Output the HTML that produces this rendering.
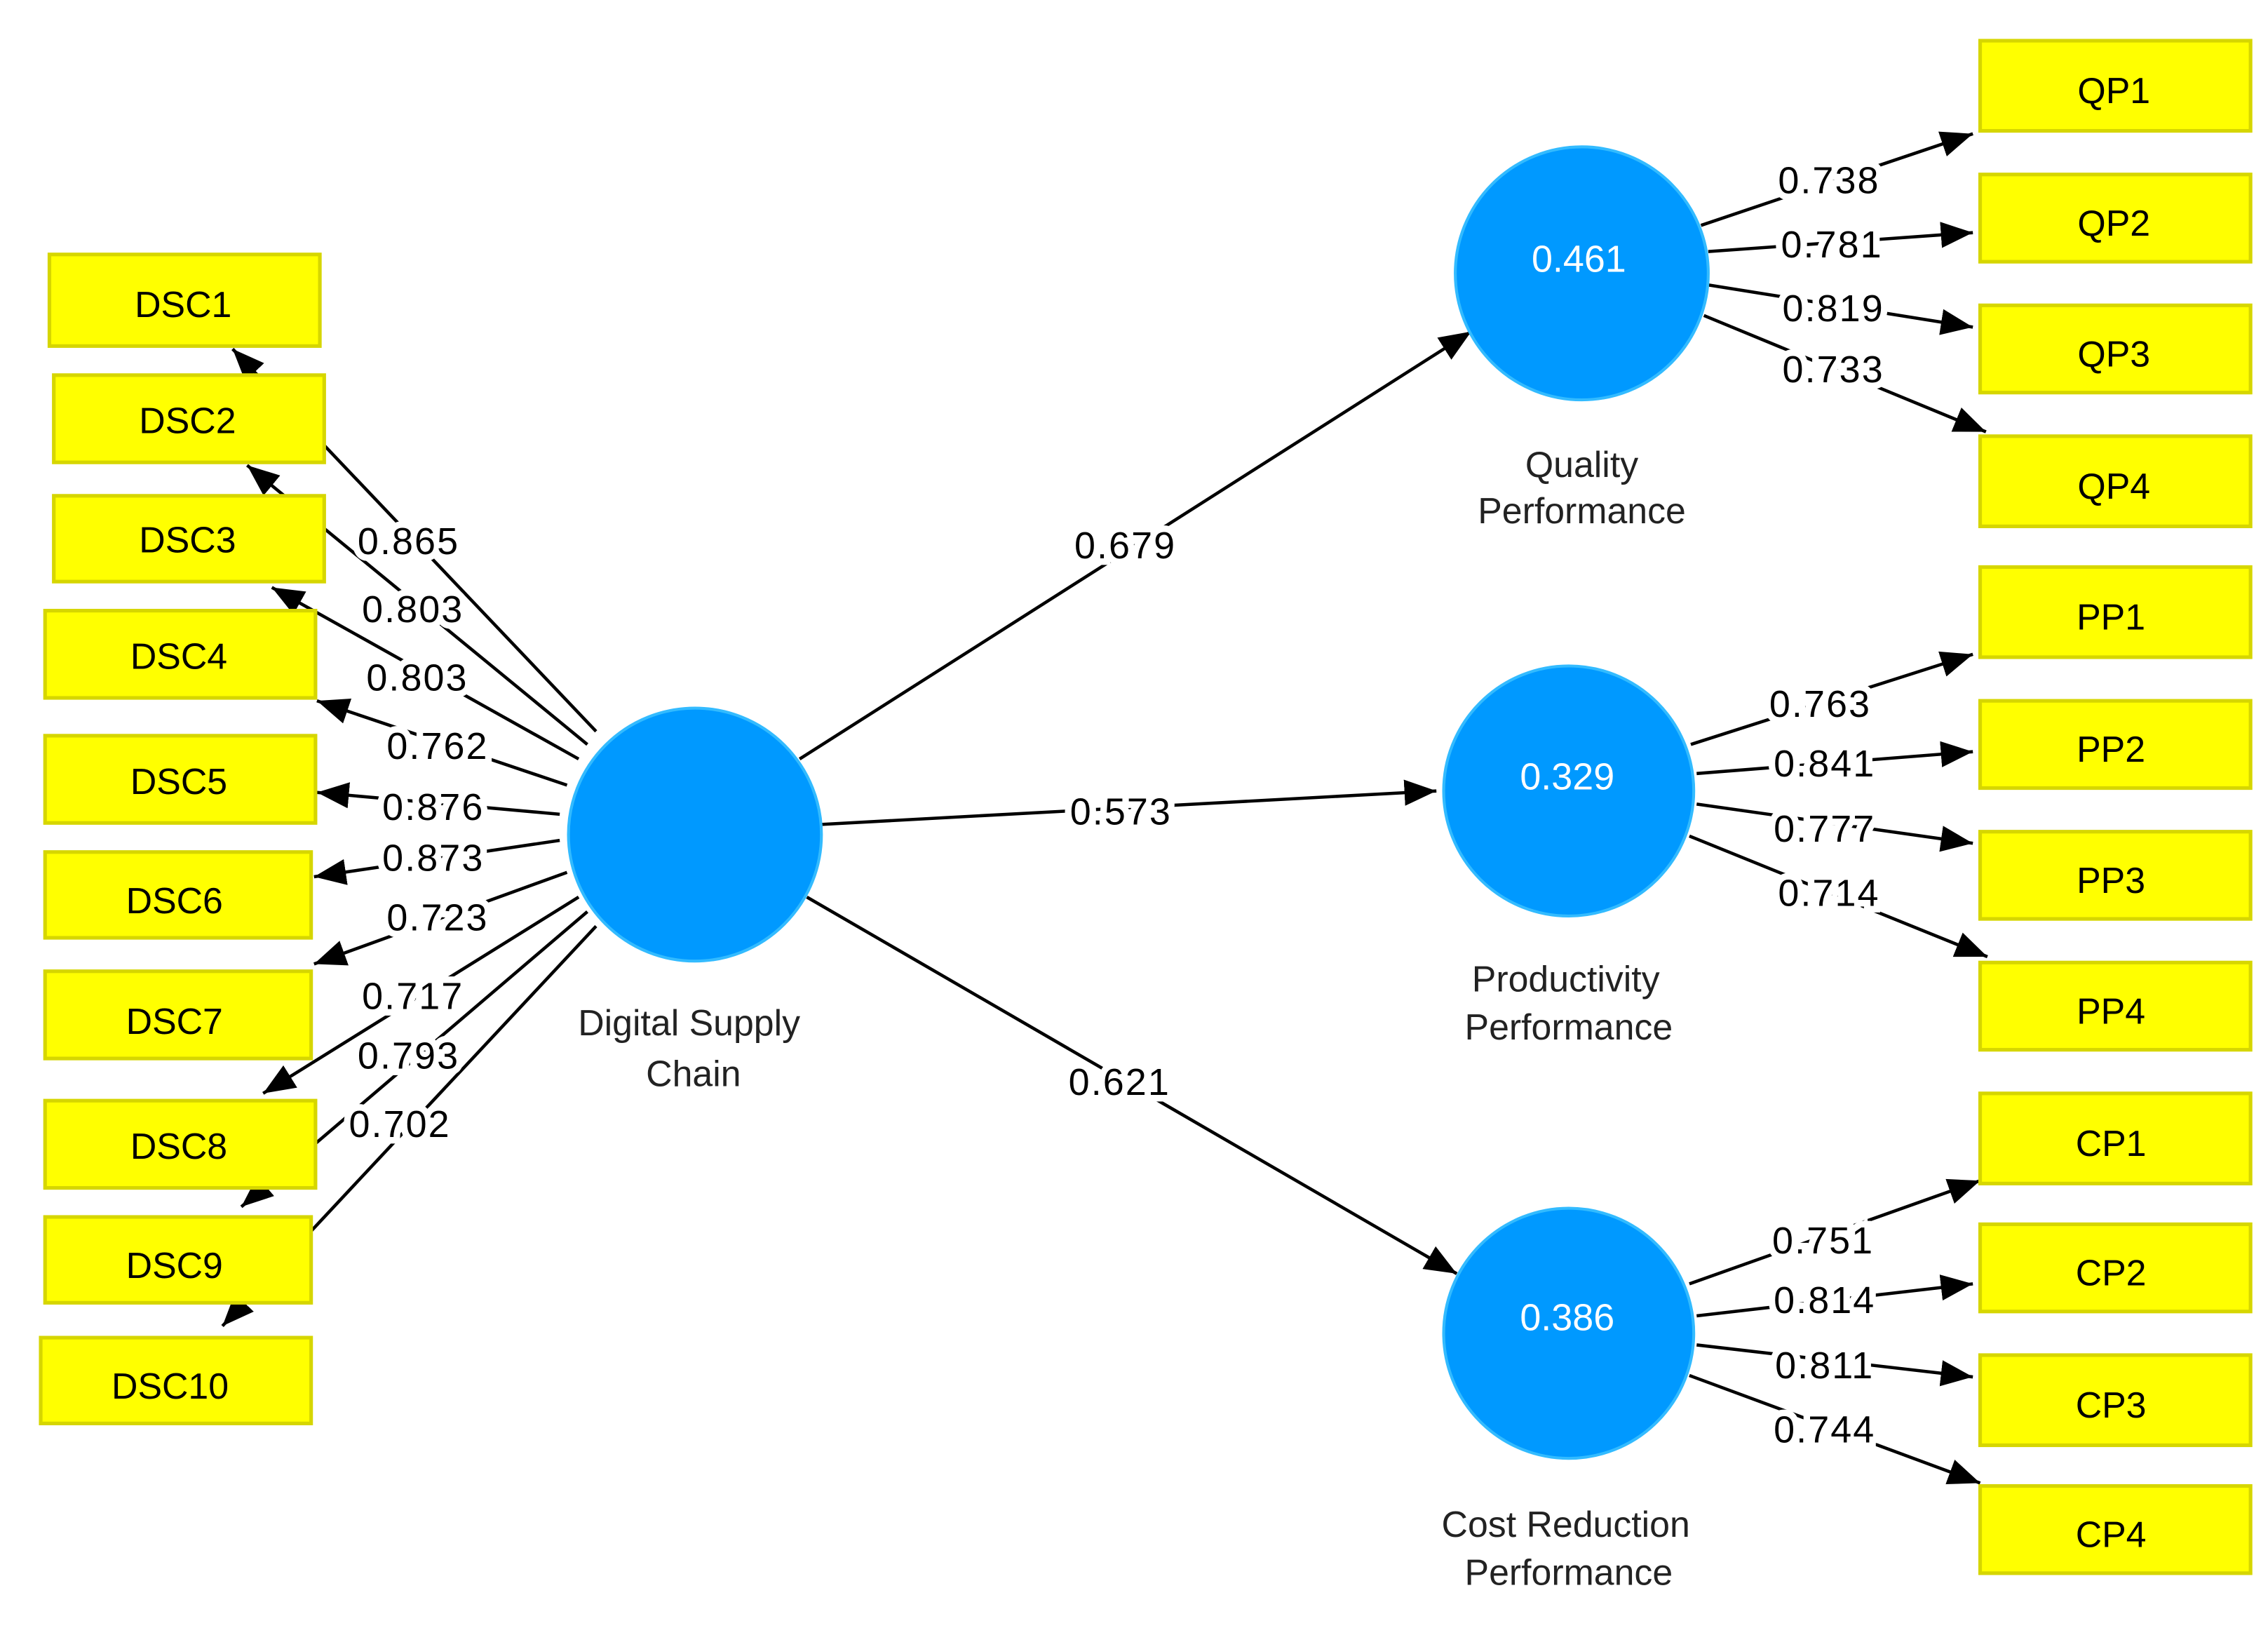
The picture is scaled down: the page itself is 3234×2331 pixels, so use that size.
<!DOCTYPE html>
<html><head><meta charset="utf-8"><style>
html,body{margin:0;padding:0;background:#fff;}
svg{display:block;}
text{font-family:"Liberation Sans",sans-serif;}
</style></head><body>
<svg width="3234" height="2331" viewBox="0 0 1560 1124.5" preserveAspectRatio="none" xmlns="http://www.w3.org/2000/svg">
<defs>
<marker id="a" markerUnits="userSpaceOnUse" markerWidth="24" markerHeight="20" refX="22" refY="10" orient="auto">
<path d="M0,1 L22,10 L0,19 Z" fill="#000"/>
</marker>
</defs>
<g stroke="#000" stroke-width="2.2" fill="none" marker-end="url(#a)">
<!-- structural -->
<line x1="550" y1="522" x2="1012" y2="228"/>
<line x1="565" y1="567" x2="988" y2="544"/>
<line x1="555" y1="617" x2="1002" y2="876"/>
<!-- QP -->
<line x1="1170" y1="155" x2="1357" y2="92"/>
<line x1="1175" y1="173" x2="1357" y2="160"/>
<line x1="1175" y1="196" x2="1357" y2="225"/>
<line x1="1172" y1="217" x2="1366" y2="297"/>
<!-- PP -->
<line x1="1163" y1="512" x2="1357" y2="450"/>
<line x1="1167" y1="532" x2="1357" y2="517"/>
<line x1="1167" y1="553" x2="1357" y2="580"/>
<line x1="1162" y1="575" x2="1367" y2="658"/>
<!-- CP -->
<line x1="1162" y1="883" x2="1362" y2="812"/>
<line x1="1167" y1="905" x2="1357" y2="883"/>
<line x1="1167" y1="925" x2="1357" y2="947"/>
<line x1="1162" y1="946" x2="1362" y2="1020"/>
<!-- DSC -->
<line x1="410" y1="503" x2="160" y2="240"/>
<line x1="404" y1="512" x2="170" y2="320"/>
<line x1="398" y1="522" x2="187" y2="404"/>
<line x1="390" y1="540" x2="218" y2="482"/>
<line x1="385" y1="560" x2="218" y2="545"/>
<line x1="385" y1="578" x2="216" y2="603"/>
<line x1="390" y1="600" x2="216" y2="663"/>
<line x1="398" y1="617" x2="181" y2="752"/>
<line x1="404" y1="627" x2="166" y2="830"/>
<line x1="410" y1="637" x2="153" y2="912"/>
</g>
<!-- boxes -->
<g fill="#ffff00" stroke="#d6d600" stroke-width="2.5">
<rect x="34" y="175" width="186" height="63"/>
<rect x="37" y="258" width="186" height="60"/>
<rect x="37" y="341" width="186" height="59"/>
<rect x="31" y="420" width="186" height="60"/>
<rect x="31" y="506" width="186" height="60"/>
<rect x="31" y="586" width="183" height="59"/>
<rect x="31" y="668" width="183" height="60"/>
<rect x="31" y="757" width="186" height="60"/>
<rect x="31" y="837" width="183" height="59"/>
<rect x="28" y="920" width="186" height="59"/>
<rect x="1362" y="28" width="186" height="62"/>
<rect x="1362" y="120" width="186" height="60"/>
<rect x="1362" y="210" width="186" height="60"/>
<rect x="1362" y="300" width="186" height="62"/>
<rect x="1362" y="390" width="186" height="62"/>
<rect x="1362" y="482" width="186" height="60"/>
<rect x="1362" y="572" width="186" height="60"/>
<rect x="1362" y="662" width="186" height="60"/>
<rect x="1362" y="752" width="186" height="62"/>
<rect x="1362" y="842" width="186" height="60"/>
<rect x="1362" y="932" width="186" height="62"/>
<rect x="1362" y="1022" width="186" height="60"/>
</g>
<g font-size="25" text-anchor="middle" fill="#000">
<text x="126" y="218">DSC1</text>
<text x="129" y="298">DSC2</text>
<text x="129" y="380">DSC3</text>
<text x="123" y="460">DSC4</text>
<text x="123" y="546">DSC5</text>
<text x="120" y="628">DSC6</text>
<text x="120" y="711">DSC7</text>
<text x="123" y="797">DSC8</text>
<text x="120" y="879">DSC9</text>
<text x="117" y="962">DSC10</text>
<text x="1454" y="71">QP1</text>
<text x="1454" y="162">QP2</text>
<text x="1454" y="252">QP3</text>
<text x="1454" y="343">QP4</text>
<text x="1452" y="433">PP1</text>
<text x="1452" y="524">PP2</text>
<text x="1452" y="614">PP3</text>
<text x="1452" y="704">PP4</text>
<text x="1452" y="795">CP1</text>
<text x="1452" y="884">CP2</text>
<text x="1452" y="975">CP3</text>
<text x="1452" y="1064">CP4</text>
</g>
<!-- circles -->
<g fill="#0099ff" stroke="#33bbff" stroke-width="2">
<circle cx="478" cy="574" r="87"/>
<circle cx="1088" cy="188" r="87"/>
<circle cx="1079" cy="544" r="86"/>
<circle cx="1079" cy="917" r="86"/>
</g>
<g font-size="26" text-anchor="middle" fill="#fff">
<text x="1086" y="187">0.461</text>
<text x="1078" y="543">0.329</text>
<text x="1078" y="915">0.386</text>
</g>
<g font-size="25" text-anchor="middle" fill="#222">
<text x="474" y="712">Digital Supply</text>
<text x="477" y="747">Chain</text>
<text x="1088" y="328">Quality</text>
<text x="1088" y="360">Performance</text>
<text x="1077" y="682">Productivity</text>
<text x="1079" y="715">Performance</text>
<text x="1077" y="1057">Cost Reduction</text>
<text x="1079" y="1090">Performance</text>
</g>
<!-- path coefficient labels -->
<g font-size="26" text-anchor="middle" fill="#000" stroke="#fff" stroke-width="9" paint-order="stroke" letter-spacing="1">
<text x="774" y="384">0.679</text>
<text x="771" y="567">0.573</text>
<text x="770" y="753">0.621</text>
<text x="1258" y="133">0.738</text>
<text x="1260" y="177">0.781</text>
<text x="1261" y="221">0.819</text>
<text x="1261" y="263">0.733</text>
<text x="1252" y="493">0.763</text>
<text x="1255" y="534">0.841</text>
<text x="1255" y="579">0.777</text>
<text x="1258" y="623">0.714</text>
<text x="1254" y="862">0.751</text>
<text x="1255" y="903">0.814</text>
<text x="1255" y="948">0.811</text>
<text x="1255" y="992">0.744</text>
<text x="281" y="381">0.865</text>
<text x="284" y="428">0.803</text>
<text x="287" y="475">0.803</text>
<text x="301" y="522">0.762</text>
<text x="298" y="564">0.876</text>
<text x="298" y="599">0.873</text>
<text x="301" y="640">0.723</text>
<text x="284" y="694">0.717</text>
<text x="281" y="735">0.793</text>
<text x="275" y="782">0.702</text>
</g>
</svg>
</body></html>
